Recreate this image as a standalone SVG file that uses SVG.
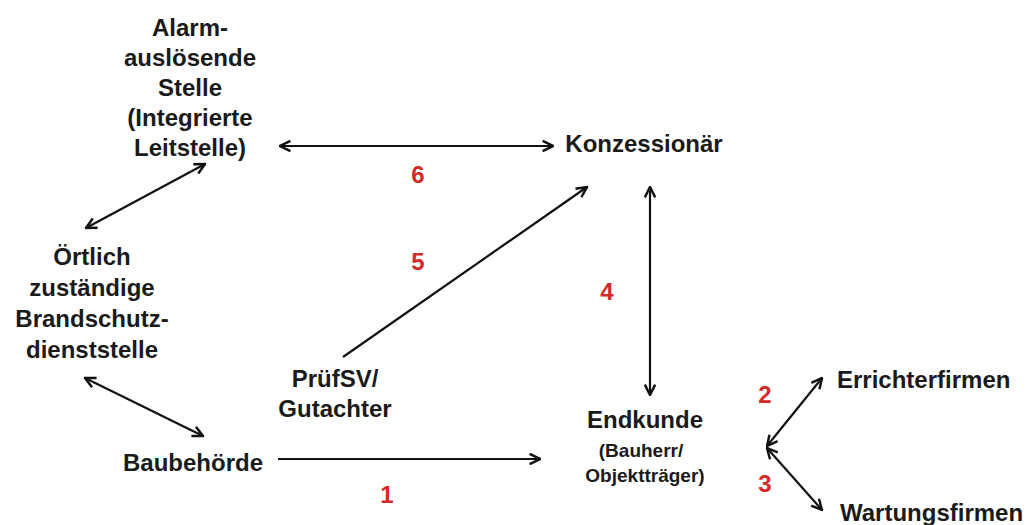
<svg xmlns="http://www.w3.org/2000/svg" width="1036" height="525" viewBox="0 0 1036 525">
<defs>
<style>
.t{font-family:"Liberation Sans",Arial,sans-serif;font-weight:bold;font-size:24px;fill:#1a1a1a;text-anchor:middle}
.s{font-size:19px}
.n{font-family:"Liberation Sans",Arial,sans-serif;font-weight:bold;font-size:24px;fill:#d42a2a;text-anchor:middle}
.c{stroke:#111;stroke-width:2.2;fill:none;marker-end:url(#a)}
.b{marker-start:url(#a)}
</style>
<marker id="a" viewBox="0 0 10 10" refX="9" refY="5" markerWidth="13" markerHeight="13" markerUnits="userSpaceOnUse" orient="auto-start-reverse">
<path d="M1,1 L9,5 L1,9" fill="none" stroke="#111" stroke-width="1.9"/>
</marker>
</defs>
<rect width="1036" height="525" fill="#fff"/>
<g id="connectors">
<line class="c b" x1="280" y1="146" x2="553" y2="146"/>
<line class="c b" x1="205" y1="164" x2="86" y2="228"/>
<line class="c b" x1="85" y1="378" x2="203" y2="436"/>
<line class="c" x1="278" y1="459" x2="540" y2="459"/>
<line class="c" x1="343" y1="357" x2="587" y2="187"/>
<line class="c b" x1="650" y1="187" x2="650" y2="395"/>
<line class="c b" x1="767" y1="446" x2="822" y2="378"/>
<line class="c b" x1="767" y1="448" x2="822" y2="510"/>
</g>
<g id="labels">
<text class="n" x="418" y="183">6</text>
<text class="n" x="418" y="270">5</text>
<text class="n" x="607" y="300">4</text>
<text class="n" x="387" y="503">1</text>
<text class="n" x="765" y="403">2</text>
<text class="n" x="765" y="492">3</text>
</g>
<g id="alarm">
<text class="t" x="190" y="36">Alarm-</text>
<text class="t" x="190" y="66">auslösende</text>
<text class="t" x="190" y="96">Stelle</text>
<text class="t" x="190" y="126">(Integrierte</text>
<text class="t" x="190" y="156">Leitstelle)</text>
</g>
<g id="konzessionaer">
<text class="t" x="644" y="152">Konzessionär</text>
</g>
<g id="oertlich">
<text class="t" x="92" y="265">Örtlich</text>
<text class="t" x="92" y="296">zuständige</text>
<text class="t" x="92" y="327">Brandschutz-</text>
<text class="t" x="92" y="358">dienststelle</text>
</g>
<g id="baubehoerde">
<text class="t" x="193" y="471">Baubehörde</text>
</g>
<g id="pruefsv">
<text class="t" x="335" y="387">PrüfSV/</text>
<text class="t" x="335" y="417">Gutachter</text>
</g>
<g id="endkunde">
<text class="t" x="645" y="428">Endkunde</text>
<text class="t s" x="641" y="457">(Bauherr/</text>
<text class="t s" x="645" y="482">Objektträger)</text>
</g>
<g id="errichter">
<text class="t" x="837" y="388" style="text-anchor:start">Errichterfirmen</text>
</g>
<g id="wartung">
<text class="t" x="840" y="521" style="text-anchor:start">Wartungsfirmen</text>
</g>
</svg>
